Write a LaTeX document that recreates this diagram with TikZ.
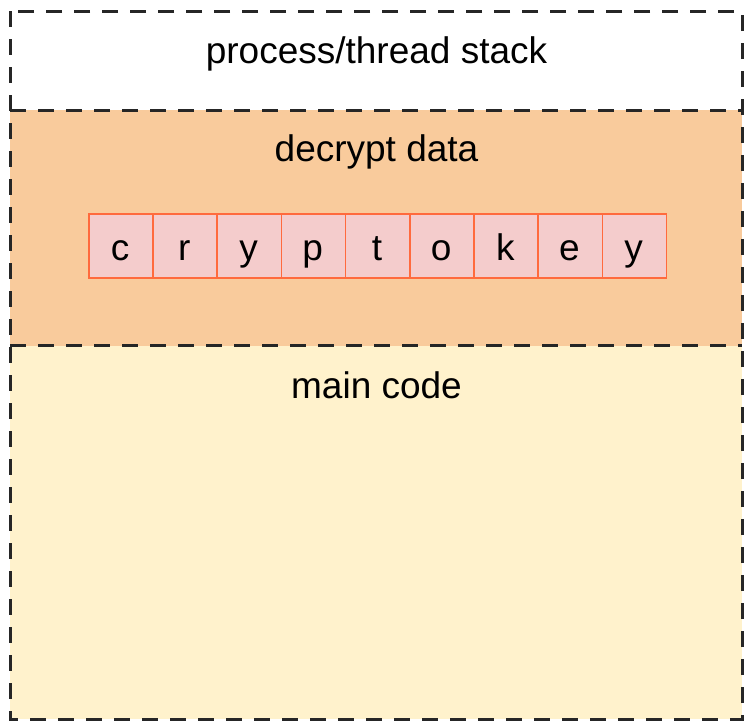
\documentclass[tikz,border=0pt]{standalone}
\usepackage{fontspec}
\setmainfont{Liberation Sans}
\usetikzlibrary{positioning}
\definecolor{stackfill}{HTML}{FFFFFF}
\definecolor{decfill}{HTML}{F9CB9C}
\definecolor{mainfill}{HTML}{FFF2CC}
\definecolor{cellfill}{HTML}{F4CCCC}
\definecolor{celledge}{HTML}{FF6A3D}
\definecolor{border}{HTML}{262626}
\tikzset{
  region/.style={rectangle, inner sep=0pt, outer sep=0pt, anchor=north west,
    minimum width=732pt},
  borderline/.style={draw=border, line width=3pt, dash pattern=on 16pt off 12pt},
  label/.style={anchor=base, inner sep=0pt, font=\fontsize{37}{44}\selectfont},
  cell/.style={rectangle, draw=celledge, line width=1.6pt, fill=cellfill,
    minimum width=64.2pt, minimum height=64pt, inner sep=0pt, anchor=north west},
}
\begin{document}
\begin{tikzpicture}[x=1pt, y=-1pt]
  \useasboundingbox (0,0) rectangle (744,720);
  % memory regions
  \node[region, fill=stackfill, minimum height=99pt] (stack) at (10,11) {};
  \node[region, fill=decfill, minimum height=235.5pt] (decrypt) at (10,110) {};
  \node[region, fill=mainfill, minimum height=373.5pt] (main) at (10,345.5) {};
  % dashed borders
  \draw[borderline] (stack.north west) rectangle (main.south east);
  \draw[borderline] (decrypt.north west) -- (decrypt.north east);
  \draw[borderline] (decrypt.south west) -- (decrypt.south east);
  % region labels
  \node[label] (lstack) at (376.5,63.3) {process/thread stack};
  \node[label] (ldecrypt) at (376.5,161.7) {decrypt data};
  \node[label] (lmain) at (376.5,398.3) {main code};
  % key bytes
  \foreach \ch [count=\i from 0] in {c,r,y,p,t,o,k,e,y} {
    \node[cell] (cell\i) at ({88+64.2*\i},213.3) {};
    \node[label] (char\i) at ({88+64.2*(\i+0.5)},260) {\ch};
  }
\end{tikzpicture}
\end{document}
